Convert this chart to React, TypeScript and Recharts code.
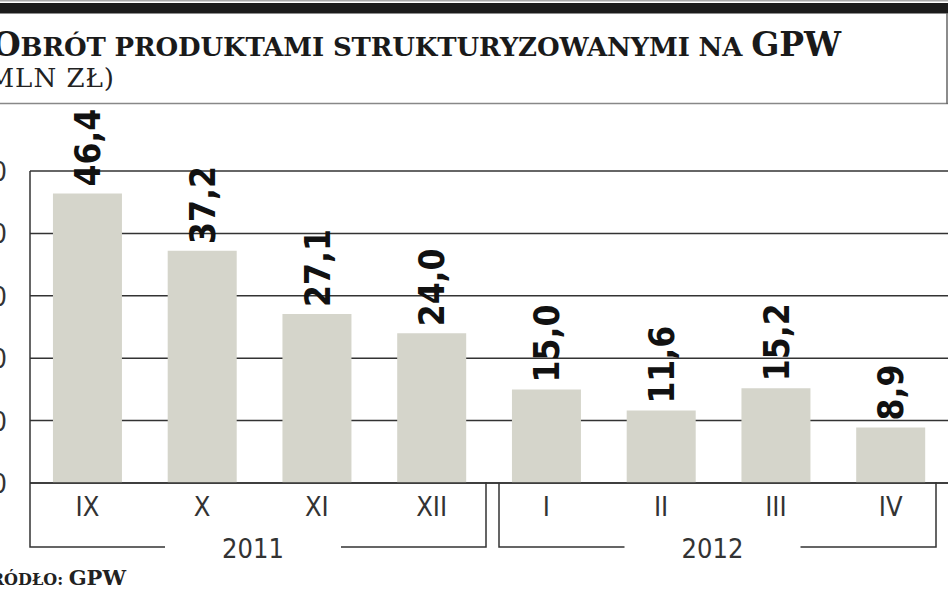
import React from "react";
import { BarChart, Bar, XAxis, YAxis, CartesianGrid, LabelList } from "recharts";

const months = ["IX", "X", "XI", "XII", "I", "II", "III", "IV"];
const years = ["2011", "2011", "2011", "2011", "2012", "2012", "2012", "2012"];
const turnover = [46.4, 37.2, 27.1, 24.0, 15.0, 11.6, 15.2, 8.9];
const yTicks = [0, 10, 20, 30, 40, 50];

const data = months.map((m, i) => ({ month: m, year: years[i], value: turnover[i] }));

const W = 948;
const H = 593;
const XAXIS_H = 110;
const MARGIN = { top: 171, right: 0, bottom: 0, left: 0 };
const YAXIS_W = 30;
const PLOT_W = W - MARGIN.left - MARGIN.right - YAXIS_W;
const BAND = PLOT_W / months.length;
const GROUP_INSETS: Record<string, [number, number]> = { "2011": [0, 3], "2012": [10, 12] };

const AXIS_COLOR = "#333";
const BAR_COLOR = "#d5d5cb";
const SANS = "'Liberation Sans Narrow', 'DejaVu Sans Condensed', 'Liberation Sans', Arial, sans-serif";
const SERIF = "'DejaVu Serif', 'Liberation Serif', serif";
const TICK_FS = 27;

const fmt = (v: number) => v.toFixed(1).replace(".", ",");

const ValueLabel = (props: any) => {
  const { x, y, width, value } = props;
  const cx = x + width / 2;
  const fs = 35;
  const bx = cx + fs * 0.36;
  const by = y - 7;
  return (
    <text
      x={bx}
      y={by}
      transform={`rotate(-90, ${bx}, ${by})`}
      textAnchor="start"
      fontFamily={SANS}
      fontWeight="bold"
      fontSize={fs}
      fill="#111"
    >
      {fmt(value)}
    </text>
  );
};

const YTick = (props: any) => {
  const { x, y, payload } = props;
  return (
    <text x={x - 15} y={y + 10} textAnchor="end" fontFamily={SANS} fontSize={TICK_FS} fill={AXIS_COLOR}>
      {payload.value}
    </text>
  );
};

const XTick = (props: any) => {
  const { x, y, payload } = props;
  const idx = payload.index ?? props.index;
  const yr = years[idx];
  const groupIdx = years.map((v, i) => (v === yr ? i : -1)).filter((i) => i >= 0);
  const isLast = groupIdx[groupIdx.length - 1] === idx;
  const axisY = y;
  let bracket = null;
  if (isLast) {
    const n = groupIdx.length;
    const [inL, inR] = GROUP_INSETS[yr] || [0, 0];
    const right = x + BAND / 2 - inR;
    const left = x - (n - 1) * BAND - BAND / 2 + inL;
    const by = axisY + 64;
    const mid = (left + right) / 2 - 5;
    const gap = 88;
    bracket = (
      <g>
        <path
          d={`M${left},${axisY} L${left},${by} L${mid - gap},${by} M${mid + gap},${by} L${right},${by} L${right},${axisY - 1}`}
          fill="none"
          stroke={AXIS_COLOR}
          strokeWidth={1.5}
        />
        <text x={mid} y={by + 11} textAnchor="middle" fontFamily={SANS} fontSize={TICK_FS} fill={AXIS_COLOR}>
          {yr}
        </text>
      </g>
    );
  }
  return (
    <g>
      <text x={x} y={axisY + 33} textAnchor="middle" fontFamily={SANS} fontSize={TICK_FS} fill={AXIS_COLOR}>
        {payload.value}
      </text>
      {bracket}
    </g>
  );
};

export default function App() {
  return (
    <div
      style={{
        position: "absolute",
        left: 0,
        top: 0,
        width: W,
        height: H,
        overflow: "hidden",
        background: "#fff",
      }}
    >
      <BarChart width={W} height={H} data={data} margin={MARGIN} barCategoryGap="20%">
        <CartesianGrid vertical={false} stroke={AXIS_COLOR} strokeWidth={1.5} />
        <XAxis
          dataKey="month"
          interval={0}
          tickLine={false}
          tickSize={0}
          tickMargin={0}
          axisLine={{ stroke: AXIS_COLOR, strokeWidth: 1.5 }}
          tick={<XTick />}
          height={XAXIS_H}
        />
        <YAxis
          width={YAXIS_W}
          domain={[0, 50]}
          ticks={yTicks}
          interval={0}
          tickLine={false}
          axisLine={{ stroke: AXIS_COLOR, strokeWidth: 1.5 }}
          tick={<YTick />}
        />
        <Bar dataKey="value" fill={BAR_COLOR} isAnimationActive={false}>
          <LabelList dataKey="value" content={<ValueLabel />} />
        </Bar>
      </BarChart>
      <svg
        width={W}
        height={H}
        style={{ position: "absolute", left: 0, top: 0, pointerEvents: "none" }}
      >
        <rect x={0} y={0} width={W} height={1.5} fill="#aaa" />
        <rect x={0} y={3} width={W} height={10.5} fill="#1b1b1b" />
        <line x1={0} y1={103.5} x2={W} y2={103.5} stroke="#888" strokeWidth={1.5} />
        <line x1={947} y1={13} x2={947} y2={104} stroke="#666" strokeWidth={1.5} />
        <text x={-8} y={56} fontFamily={SERIF} fontWeight="bold" fill="#1a1a1a" textLength={849}>
          <tspan fontSize={33}>O</tspan>
          <tspan fontSize={26}>BRÓT PRODUKTAMI STRUKTURYZOWANYMI NA </tspan>
          <tspan fontSize={33}>GPW</tspan>
        </text>
        <text x={115} y={87} textAnchor="end" fontFamily={SERIF} fontSize={26} letterSpacing={1} fill="#222">
          (MLN ZŁ)
        </text>
        <text x={126} y={585} textAnchor="end" fontFamily={SERIF} fontWeight="bold" fill="#222">
          <tspan fontSize={21}>Ź</tspan>
          <tspan fontSize={16}>RÓDŁO: </tspan>
          <tspan fontSize={21}>GPW</tspan>
        </text>
      </svg>
    </div>
  );
}
